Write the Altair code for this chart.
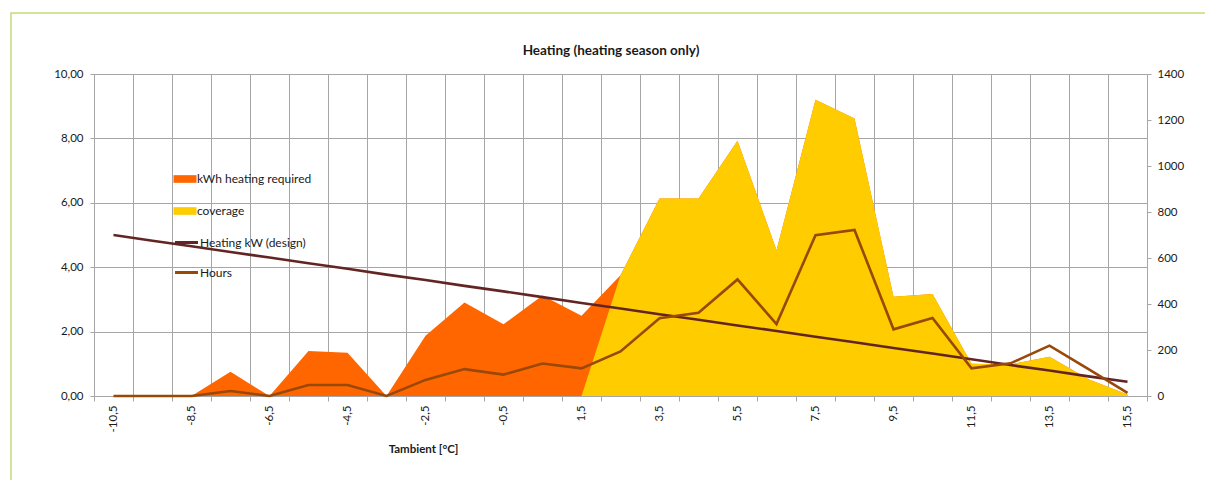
import json
import altair as alt
import pandas as pd

# ---------------- data ----------------
temps = ["-10,5", "-9,5", "-8,5", "-7,5", "-6,5", "-5,5", "-4,5", "-3,5", "-2,5",
         "-1,5", "-0,5", "0,5", "1,5", "2,5", "3,5", "4,5", "5,5", "6,5", "7,5",
         "8,5", "9,5", "10,5", "11,5", "12,5", "13,5", "14,5", "15,5"]
shown_labels = ["-10,5", "-8,5", "-6,5", "-4,5", "-2,5", "-0,5", "1,5", "3,5",
                "5,5", "7,5", "9,5", "11,5", "13,5", "15,5"]
kwh_required = [0, 0, 0, 0.75, 0, 1.40, 1.34, 0, 1.87, 2.90, 2.23, 3.12, 2.49, 3.75,
                6.13, 6.13, 7.93, 4.53, 9.20, 8.62, 3.08, 3.17, 1.00, 0.98, 1.22, 0.52, 0.05]
coverage = [None, None, None, None, None, None, None, None, None, None, None, None, 0,
            3.75, 6.13, 6.13, 7.93, 4.53, 9.20, 8.62, 3.08, 3.17, 1.00, 0.98, 1.22, 0.52, 0.05]
heating_kw = [5.00, 4.82, 4.65, 4.47, 4.30, 4.12, 3.95, 3.77, 3.60, 3.42, 3.25, 3.07, 2.89,
              2.72, 2.54, 2.37, 2.19, 2.02, 1.84, 1.67, 1.49, 1.32, 1.14, 0.96, 0.79, 0.61, 0.44]
hours = [0, 0, 0, 22, 0, 48, 48, 0, 70, 117, 93, 141, 120, 194, 338, 362, 507, 313, 699,
         722, 290, 339, 120, 142, 219, 117, 14]

left_ticks = [0, 2, 4, 6, 8, 10]
right_ticks = [0, 200, 400, 600, 800, 1000, 1200, 1400]

chart_title = "Heating (heating season only)"
area_names = ["kWh heating required", "coverage"]
area_colors = ["#ff6600", "#ffcc00"]
line_names = ["Heating kW (design)", "Hours"]
line_colors = ["#632523", "#984807"]

df = pd.DataFrame({"T": temps, "required": kwh_required, "coverage": coverage,
                   "design": heating_kw, "hours": hours})

FONT = "Lato"
GRID = "#a6a6a6"
TEXT = "#1a1a1a"

x_enc = alt.X(
    "T:N", sort=temps, bandPosition=0.5,
    scale=alt.Scale(type="band", paddingInner=0, paddingOuter=0),
    axis=alt.Axis(
        title="Tambient [°C]", labelAngle=-90, tickBand="extent", grid=True,
        gridColor=GRID, domainColor=GRID, tickColor=GRID, tickSize=5,
        labelExpr="indexof(" + json.dumps(shown_labels) + ", datum.value) >= 0 ? datum.value : ''",
        labelOverlap=False, labelPadding=4, labelFontSize=11.5, labelFont=FONT,
        labelColor=TEXT, titleX=329, titleY=53, titleFontSize=11.5, titleFont=FONT,
        titleFontWeight="bold", titleBaseline="middle", titleAlign="center",
        titleColor=TEXT),
)

left_axis = alt.Axis(
    title=None, values=left_ticks, grid=True, gridColor=GRID, domainColor=GRID,
    tickColor=GRID, tickSize=4, labelPadding=7, labelFontSize=11.5, labelFont=FONT,
    labelColor=TEXT, labelExpr="replace(format(datum.value, '.2f'), '.', ',')")
left_scale = alt.Scale(domain=[0, 10], nice=False)

fill_scale = alt.Scale(domain=area_names, range=area_colors)
stroke_scale = alt.Scale(domain=line_names, range=line_colors)

fill_legend = alt.Legend(
    title=None, orient="none", legendX=83, legendY=97, padding=0,
    symbolType="M-1.5,-0.5H1.5V0.5H-1.5Z", symbolSize=235, symbolStrokeWidth=0,
    symbolOpacity=1, labelFontSize=12, labelFont=FONT, labelColor=TEXT,
    labelOffset=4, rowPadding=18)
stroke_legend = alt.Legend(
    title=None, orient="none", legendX=83, legendY=159, padding=0,
    symbolType="M-1.5,0H1.5", symbolSize=235, symbolStrokeWidth=3,
    symbolFillColor="transparent", labelFontSize=12, labelFont=FONT,
    labelColor=TEXT, labelOffset=4, rowPadding=14)


def tagged(name):
    return alt.Chart(df).transform_calculate(series=json.dumps(name))


area_req = tagged(area_names[0]).mark_area(opacity=1).encode(
    x=x_enc,
    y=alt.Y("required:Q", scale=left_scale, axis=left_axis, stack=None),
    fill=alt.Fill("series:N", scale=fill_scale, legend=fill_legend),
)
area_cov = tagged(area_names[1]).mark_area(opacity=1).encode(
    x=x_enc,
    y=alt.Y("coverage:Q", scale=left_scale, axis=left_axis, stack=None),
    fill=alt.Fill("series:N", scale=fill_scale, legend=fill_legend),
)
line_design = tagged(line_names[0]).mark_line(strokeWidth=2.6).encode(
    x=x_enc,
    y=alt.Y("design:Q", scale=left_scale, axis=left_axis),
    stroke=alt.Stroke("series:N", scale=stroke_scale, legend=stroke_legend),
)
left_layer = alt.layer(area_req, area_cov, line_design)

line_hours = tagged(line_names[1]).mark_line(strokeWidth=2.6).encode(
    x=x_enc,
    y=alt.Y("hours:Q", scale=alt.Scale(domain=[0, 1400], nice=False),
            axis=alt.Axis(orient="right", title=None, values=right_ticks, grid=False,
                          format="d", domainColor=GRID, tickColor=GRID, tickSize=4,
                          labelPadding=6, labelFontSize=11.5, labelFont=FONT,
                          labelColor=TEXT)),
    stroke=alt.Stroke("series:N", scale=stroke_scale, legend=stroke_legend),
)

# decorative frame of the chart area and the chart title (text, not data)
border = alt.Chart(pd.DataFrame({"a": [0]})).mark_rect(
    filled=False, stroke="#c2dd78", strokeWidth=1.5).encode(
    x=alt.value(-83), x2=alt.value(1140), y=alt.value(-61), y2=alt.value(430))

title_mark = alt.Chart(pd.DataFrame({"t": [chart_title]})).mark_text(
    font=FONT, fontSize=13.5, fontWeight="bold", color=TEXT, align="center",
    baseline="middle").encode(text="t:N", x=alt.value(517), y=alt.value(-23))

chart = alt.layer(border, title_mark, left_layer, line_hours).resolve_scale(
    y="independent"
).properties(
    width=1053, height=322,
    autosize=alt.AutoSizeParams(type="none"),
    padding={"left": 86, "top": 66, "right": 58, "bottom": 84},
).configure_view(stroke=None).configure(background="white")

chart.save("out.html", embed_options={"renderer": "svg", "actions": False})
